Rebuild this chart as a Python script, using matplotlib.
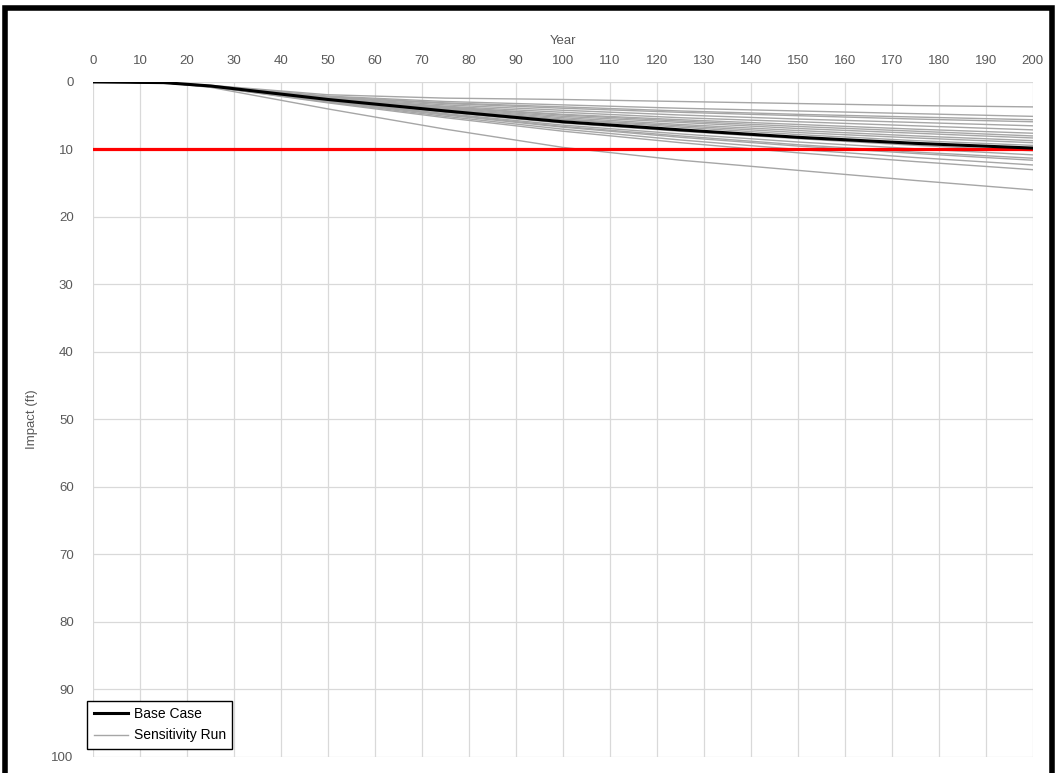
import matplotlib.pyplot as plt
from matplotlib.patches import Rectangle

plt.rcParams['font.family'] = ['Liberation Sans', 'DejaVu Sans']

years = [0, 15, 25, 50, 75, 100, 125, 150, 175, 200]

base_case = [0, 0.1, 0.6, 2.6, 4.3, 5.9, 7.1, 8.2, 9.1, 9.8]

# sensitivity runs
run_01 = [0, 0.1, 0.5, 1.9, 2.4, 2.6, 2.9, 3.2, 3.5, 3.7]
run_02 = [0, 0.1, 0.6, 2.1, 2.9, 3.4, 3.9, 4.3, 4.7, 5.1]
run_03 = [0, 0.1, 0.6, 2.2, 3.1, 3.7, 4.3, 4.8, 5.2, 5.6]
run_04 = [0, 0.1, 0.6, 2.2, 3.2, 3.9, 4.5, 5.0, 5.5, 5.9]
run_05 = [0, 0.1, 0.6, 2.3, 3.4, 4.2, 4.9, 5.5, 6.0, 6.5]
run_06 = [0, 0.1, 0.6, 2.4, 3.6, 4.5, 5.3, 5.9, 6.5, 7.1]
run_07 = [0, 0.1, 0.6, 2.4, 3.7, 4.8, 5.6, 6.3, 7.0, 7.6]
run_08 = [0, 0.1, 0.6, 2.5, 3.8, 4.9, 5.8, 6.6, 7.3, 8.0]
run_09 = [0, 0.1, 0.6, 2.5, 3.9, 5.1, 6.0, 6.9, 7.6, 8.3]
run_10 = [0, 0.1, 0.6, 2.5, 4.0, 5.3, 6.3, 7.2, 8.0, 8.7]
run_11 = [0, 0.1, 0.6, 2.6, 4.1, 5.5, 6.5, 7.5, 8.3, 9.0]
run_12 = [0, 0.1, 0.6, 2.6, 4.2, 5.6, 6.7, 7.8, 8.7, 9.4]
run_13 = [0, 0.1, 0.7, 2.7, 4.5, 6.1, 7.3, 8.4, 9.4, 10.2]
run_14 = [0, 0.1, 0.7, 2.8, 4.7, 6.4, 7.7, 8.9, 9.9, 10.8]
run_15 = [0, 0.1, 0.7, 2.9, 4.8, 6.6, 8.0, 9.3, 10.4, 11.3]
run_16 = [0, 0.1, 0.7, 2.9, 4.9, 6.7, 8.2, 9.5, 10.6, 11.6]
run_17 = [0, 0.1, 0.7, 3.0, 5.1, 7.0, 8.6, 10.0, 11.2, 12.3]
run_18 = [0, 0.1, 0.7, 3.1, 5.3, 7.3, 9.0, 10.5, 11.8, 13.0]
run_19 = [0, 0.1, 0.8, 4.0, 7.0, 9.7, 11.6, 13.1, 14.6, 16.0]

runs = [run_01, run_02, run_03, run_04, run_05, run_06, run_07, run_08, run_09,
        run_10, run_11, run_12, run_13, run_14, run_15, run_16, run_17, run_18, run_19]

threshold = 10
x_ticks = list(range(0, 201, 10))
y_ticks = list(range(0, 101, 10))

fig = plt.figure(figsize=(10.58, 7.73), dpi=100)
ax = fig.add_axes([0.088, 0.021, 0.888, 0.873])

for i, r in enumerate(runs):
    ax.plot(years, r, color='#a6a6a6', lw=1.0, label='Sensitivity Run' if i == 0 else None, zorder=2)
ax.axhline(threshold, color='#ff0000', lw=2.3, zorder=3)
ax.plot(years, base_case, color='black', lw=2.2, label='Base Case', zorder=4)

ax.set_xlim(0, 200)
ax.set_ylim(100, 0)
ax.set_xticks(x_ticks)
ax.set_yticks(y_ticks)
ax.xaxis.tick_top()
ax.xaxis.set_label_position('top')
ax.tick_params(length=0, labelsize=9.5, labelcolor='#595959')
ax.tick_params(axis='x', pad=11)
ax.tick_params(axis='y', pad=14)
ax.grid(color='#d9d9d9', lw=0.9)
for s in ax.spines.values():
    s.set_visible(False)
ax.set_axisbelow(True)

ax.set_xlabel('Year', fontsize=9.5, color='#595959', labelpad=8)
ax.set_ylabel('Impact (ft)', fontsize=9.5, color='#595959', labelpad=10)

h, l = ax.get_legend_handles_labels()
leg = ax.legend([h[1], h[0]], [l[1], l[0]], loc='lower left', bbox_to_anchor=(-0.006, 0.012),
                borderaxespad=0, fontsize=10, fancybox=False, framealpha=1,
                edgecolor='black', handlelength=2.5, handletextpad=0.4, borderpad=0.45,
                labelspacing=0.55)
leg.get_frame().set_linewidth(1.0)

# thick black frame around the picture
fig.patches.append(Rectangle((5 / 1058, -0.05), 1047 / 1058, 1.05 - 8 / 773,
                             transform=fig.transFigure, fill=False, ec='black', lw=4))

fig.savefig('out.png', dpi=100)
